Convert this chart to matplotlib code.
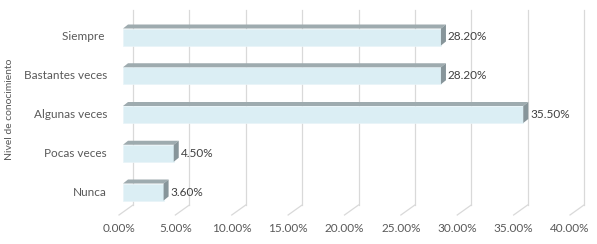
import numpy as np
import matplotlib.pyplot as plt
from matplotlib.patches import Polygon

categories = ["Nunca", "Pocas veces", "Algunas veces", "Bastantes veces", "Siempre "]
values = [3.6, 4.5, 35.5, 28.2, 28.2]
xticks = [0, 5, 10, 15, 20, 25, 30, 35, 40]

W, H, DPI = 597, 244, 100
fig = plt.figure(figsize=(W / DPI, H / DPI), dpi=DPI)
plt.rcParams['font.family'] = ['Lato', 'DejaVu Sans']
txt = '#595959'

# axes = front plane of the bars, pixel positions
x0px, x1px = 123, 574
ytop, ybot = 10, 205
ax = fig.add_axes([x0px / W, 1 - ybot / H, (x1px - x0px) / W, (ybot - ytop) / H])
ax.set_xlim(0, 40)
ax.set_ylim(-13 / 38.75, 4 + 27 / 38.75)
ax.axis('off')

sx = (x1px - x0px) / 40.0   # px per percent
sy = 38.75                  # px per category

def px(dx):
    return dx / sx

def py(dy):
    return dy / sy

# back wall gridlines + floor lines
ymin, ymax = ax.get_ylim()
for v in xticks:
    ax.plot([v + px(10), v + px(10)], [ymin, ymax], color='#d9d9d9', lw=0.9, clip_on=False, zorder=1)
    ax.plot([v + px(10), v - px(4)], [ymin, ymin - py(10)], color='#d9d9d9', lw=0.9, clip_on=False, zorder=1)
    ax.text(v - px(4), ymin - py(24), f"{v:.2f}%", ha='center', va='center', fontsize=8.5, color=txt, clip_on=False)

bh = py(17)
for i, (c, v) in enumerate(zip(categories, values)):
    yb = i - bh / 2
    yt = i + bh / 2
    # front
    ax.add_patch(Polygon([(0, yb), (v, yb), (v, yt), (0, yt)], closed=True,
                         facecolor='#dbeef4', edgecolor='#e8f4f8', lw=0.5, zorder=3))
    # top
    ax.add_patch(Polygon([(0, yt), (v, yt), (v + px(5), yt + py(4)), (px(5), yt + py(4))], closed=True,
                         facecolor='#9eabaf', edgecolor='none', zorder=3))
    # side
    ax.add_patch(Polygon([(v, yb), (v + px(5), yb + py(4)), (v + px(5), yt + py(4)), (v, yt)], closed=True,
                         facecolor='#87959a', edgecolor='none', zorder=3))
    ax.text(v + px(7), i, f"{v:.2f}%", ha='left', va='center', fontsize=8.5, color='#404040')
    ax.text(-px(16), i, c, ha='right', va='center', fontsize=8.5, color=txt)

fig.text(10 / W, 1 - 109 / H, "Nivel de conocimiento", rotation=90, ha='center', va='center',
         fontsize=7.5, color=txt)

fig.savefig('out.png', dpi=DPI)
